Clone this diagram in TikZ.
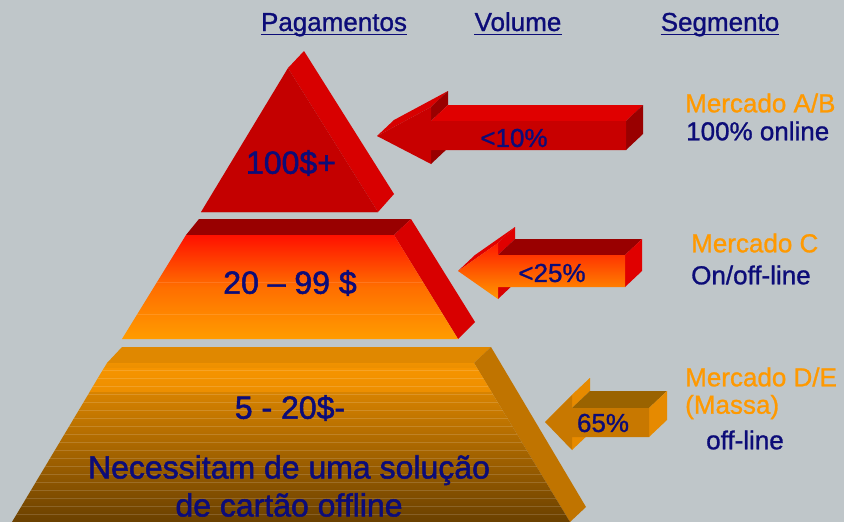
\documentclass[tikz,border=0pt]{standalone}
\usepackage{fontspec}
\setmainfont{Liberation Sans}
\usetikzlibrary{calc}
\definecolor{bg}{HTML}{BFC6C9}
\definecolor{navy}{RGB}{12,12,120}
\definecolor{orangetxt}{HTML}{FF9900}
\definecolor{redA}{HTML}{C40000}
\definecolor{redB}{HTML}{D80000}
\definecolor{redC}{HTML}{E00000}
\definecolor{redD}{HTML}{990000}
\definecolor{redF}{RGB}{200,0,0}
\definecolor{baseline}{RGB}{190,150,150}
\definecolor{midTop}{RGB}{255,16,0}
\definecolor{midMid}{RGB}{255,110,0}
\definecolor{midBot}{RGB}{255,156,0}
\definecolor{botTop}{RGB}{240,146,0}
\definecolor{botMid}{RGB}{210,128,0}
\definecolor{arrTop}{RGB}{255,26,0}
\definecolor{arrBot}{RGB}{255,153,0}
\definecolor{orA}{HTML}{FF9900}
\definecolor{orTop}{HTML}{E08800}
\definecolor{orSide}{HTML}{C07400}
\definecolor{orFront}{HTML}{C87800}
\definecolor{orDark}{HTML}{9A6300}
\definecolor{orMid}{HTML}{E68A00}
\definecolor{brown}{HTML}{6A4000}
\newfontfamily\heavyfont[FakeBold=1.6]{Liberation Sans}
\newfontfamily\semifont[FakeBold=1.0]{Liberation Sans}
\tikzset{
  bigtxt/.style={text=navy, font=\heavyfont\fontsize{32}{38}\selectfont, inner sep=0pt, align=center},
  midtxt/.style={text=navy, font=\semifont\fontsize{26}{30}\selectfont, inner sep=0pt},
  seglab/.style={font=\semifont\fontsize{26}{29}\selectfont, inner sep=0pt, anchor=west},
  headtxt/.style={text=navy, font=\semifont\fontsize{26}{30}\selectfont, inner sep=0pt, anchor=base},
  uline/.style={draw=navy, line width=1.6pt}
}
\begin{document}
\begin{tikzpicture}[x=1pt,y=-1pt]
\fill[bg] (0,0) rectangle (844,522);
\useasboundingbox (0,0) rectangle (844,522);

% ---- top triangle
\fill[redB] (288,68) -- (304,51) -- (394,194) -- (378,212) -- cycle;
\fill[redA] (288,68) -- (201,212) -- (378,212) -- cycle;
\draw[line width=1pt, color=baseline] (201,212.5) -- (378,212.5);

% ---- middle trapezoid
\fill[redD] (186,235) -- (394,235) -- (411,219) -- (199,219) -- cycle;
\fill[redB] (394,235) -- (411,219) -- (475,322) -- (458,339) -- cycle;
\shade[top color=midTop, bottom color=midBot, middle color=midMid]
  (186,235) -- (394,235) -- (458,339) -- (122,339) -- cycle;
\begin{scope}
\clip (186,235) -- (394,235) -- (458,339) -- (122,339) -- cycle;
\foreach \yy in {282,314} \draw[white, opacity=0.12, line width=0.8pt] (100,\yy) -- (480,\yy);
\end{scope}

% ---- bottom trapezoid
\fill[orTop] (107,363) -- (474,363) -- (491,347) -- (122,347) -- cycle;
\fill[orSide] (474,363) -- (491,347) -- (586,507) -- (570,522) -- cycle;
\shade[top color=botTop, middle color=botMid, bottom color=brown]
  (107,363) -- (474,363) -- (570,522) -- (12,522) -- cycle;
\begin{scope}
\clip (107,363) -- (474,363) -- (570,522) -- (12,522) -- cycle;
\fill[orA, opacity=0.55] (0,368) rectangle (600,392);
\foreach \yy in {370,378,386,394,402,410,418,426,434,442,450,458,466,474,482,490,498,506,514}
  \draw[white, opacity=0.15, line width=0.8pt] (0,\yy) -- (600,\yy);
\end{scope}

% ---- arrow 1 (<10%)
\fill[redB] (377,136) -- (431,107) -- (448,91) -- (394,120) -- cycle;
\fill[redD] (431,107) -- (431,121) -- (448,105) -- (448,91) -- cycle;
\fill[redD] (431,150) -- (431,164) -- (448,148) -- (448,134) -- cycle;
\fill[redC] (431,121) -- (626,121) -- (643,105) -- (448,105) -- cycle;
\fill[redD] (626,121) -- (643,105) -- (643,134) -- (626,150) -- cycle;
\fill[redF] (377,136) -- (431,107) -- (431,121) -- (626,121) -- (626,150) -- (431,150) -- (431,164) -- cycle;

% ---- arrow 2 (<25%)
\fill[redC] (458,271) -- (498,243) -- (515,227) -- (475,255) -- cycle;
\fill[redC] (498,243) -- (498,255) -- (515,239) -- (515,227) -- cycle;
\fill[redB] (498,287) -- (498,299) -- (515,283) -- (515,271) -- cycle;
\fill[redD] (498,255) -- (625,255) -- (642,239) -- (515,239) -- cycle;
\fill[redC] (625,255) -- (642,239) -- (642,271) -- (625,287) -- cycle;
\shade[top color=arrTop, bottom color=arrBot]
  (458,271) -- (498,243) -- (498,255) -- (625,255) -- (625,287) -- (498,287) -- (498,299) -- cycle;

% ---- arrow 3 (65%)
\fill[orMid] (545,422) -- (572,395) -- (590,378) -- (563,405) -- cycle;
\fill[orMid] (572,395) -- (572,408) -- (590,391) -- (590,378) -- cycle;
\fill[orMid] (572,437) -- (572,450) -- (590,433) -- (590,420) -- cycle;
\fill[orDark] (572,408) -- (649,408) -- (667,391) -- (590,391) -- cycle;
\fill[orMid] (649,408) -- (667,391) -- (667,420) -- (649,437) -- cycle;
\fill[orFront] (545,422) -- (572,395) -- (572,408) -- (649,408) -- (649,437) -- (572,437) -- (572,450) -- cycle;

% ---- texts in pyramid
\node[bigtxt] (p1) at (291,163) {100\$+};
\node[bigtxt] (p2) at (290,283) {20 – 99 \$};
\node[bigtxt] (p3) at (290,408) {5 - 20\$-};
\node[bigtxt] (p4) at (289,486) {Necessitam de uma solução\\de cartão offline};

% ---- arrow labels
\node[midtxt] (v1) at (514,138) {<10\%};
\node[midtxt] (v2) at (552,273) {<25\%};
\node[midtxt] (v3) at (603,423) {65\%};

% ---- headers
\node[headtxt] (h1) at (334,31) {Pagamentos};
\node[headtxt] (h2) at (518,31) {Volume};
\node[headtxt] (h3) at (720,31) {Segmento};
\foreach \h in {h1,h2,h3}
  \draw[uline] ([yshift=-3.5pt]\h.base west) -- ([yshift=-3.5pt]\h.base east);

% ---- segments
\node[seglab, text=orangetxt] (s1) at (685,103) {Mercado A/B};
\node[seglab, text=navy] (s2) at (686,131) {100\% online};
\node[seglab, text=orangetxt] (s3) at (691,243) {Mercado C};
\node[seglab, text=navy] (s4) at (691,275) {On/off-line};
\node[seglab, text=orangetxt] (s5) at (685,377) {Mercado D/E};
\node[seglab, text=orangetxt] (s6) at (685,407) {(Massa)};
\node[seglab, text=navy] (s7) at (706,440) {off-line};
\end{tikzpicture}
\end{document}
